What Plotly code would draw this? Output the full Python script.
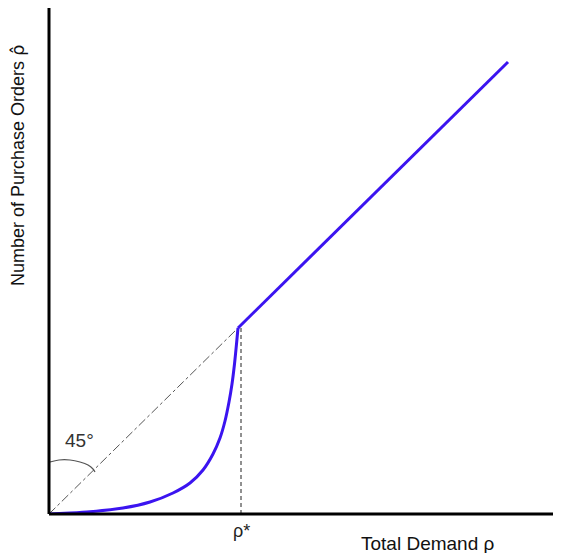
import plotly.graph_objects as go

# Data (arbitrary units)
curve_x = [0, 21, 41, 74, 101, 124, 141, 154, 164, 171, 176, 180, 183, 185.5, 187.5, 189]
curve_y = [0, 1, 2.3, 6, 12, 21, 31, 44, 60, 76, 93, 112, 130, 150, 170, 186]
upper_x = [189, 459]
upper_y = [186, 452]
diag_x = [0, 189]
diag_y = [0, 186]
rho_star = 192
arc_x = [1, 10, 21, 31, 39, 44, 46]
arc_y = [52, 54, 54, 52, 49, 45, 42]

XMAX, YMAX = 510, 506
blue = "#3b14f0"
fig = go.Figure()
fig.add_trace(go.Scatter(x=diag_x, y=diag_y, mode="lines",
                         line=dict(color="#555555", width=1, dash="dashdot"),
                         hoverinfo="skip"))
fig.add_trace(go.Scatter(x=[rho_star, rho_star], y=[0, 186], mode="lines",
                         line=dict(color="#222222", width=1, dash="4px,3px"),
                         hoverinfo="skip"))
fig.add_trace(go.Scatter(x=arc_x, y=arc_y, mode="lines", line_shape="spline",
                         line=dict(color="#555555", width=1.2), hoverinfo="skip"))
fig.add_trace(go.Scatter(x=curve_x, y=curve_y, mode="lines", line_shape="spline",
                         line=dict(color=blue, width=3, smoothing=0.6)))
fig.add_trace(go.Scatter(x=upper_x, y=upper_y, mode="lines",
                         line=dict(color=blue, width=3)))

font = "Liberation Sans, Arial, sans-serif"
def px(x):
    return x / XMAX
def py(y):
    return y / YMAX

def ann(x, y, text, size, color, angle=0):
    return dict(x=px(x), y=py(y), xref="paper", yref="paper", text=text,
                showarrow=False, xanchor="center", yanchor="middle", textangle=angle,
                font=dict(family=font, size=size, color=color))

fig.update_layout(
    width=561, height=553, showlegend=False,
    plot_bgcolor="white", paper_bgcolor="white",
    margin=dict(l=41, r=10, t=0, b=47),
    xaxis=dict(range=[0, XMAX], showgrid=False, zeroline=False, showticklabels=False,
               ticks="", showline=False),
    yaxis=dict(range=[0, YMAX], showgrid=False, zeroline=False, showticklabels=False,
               ticks="", showline=False),
    shapes=[
        dict(type="line", xref="paper", yref="paper", x0=0, x1=1, y0=0, y1=0,
             line=dict(color="black", width=3)),
        dict(type="line", xref="paper", yref="paper", x0=0, x1=0, y0=0, y1=1,
             line=dict(color="black", width=3)),
    ],
    annotations=[
        ann(rho_star, -17, "ρ*", 18, "#222"),
        ann(379, -29, "Total Demand ρ", 19, "#111"),
        ann(30, 74, "45°", 19, "#333"),
        ann(-32, 349, "Number of Purchase Orders <span style='font-family:DejaVu Sans'>ρ̂</span>",
            18, "#111", -90),
    ],
)
fig.write_html("out.html")
